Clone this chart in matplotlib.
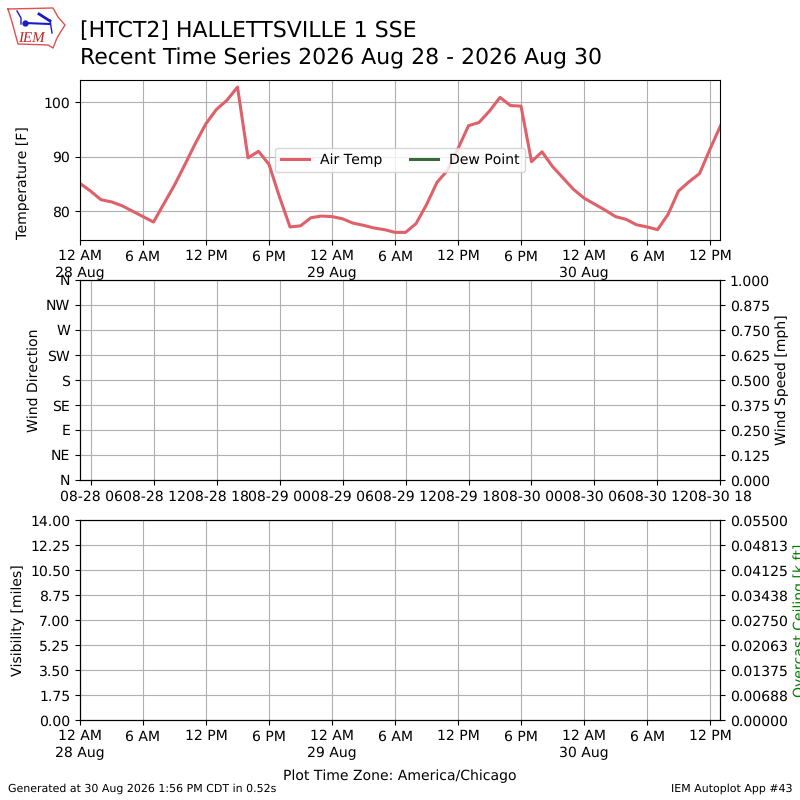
import matplotlib
matplotlib.use('Agg')
import matplotlib.pyplot as plt
import matplotlib.dates as mdates
import pandas as pd

plt.rcParams['text.hinting'] = 'no_hinting'
plt.rcParams['text.hinting_factor'] = 1

# hourly air temp [F], starting 28 Aug 12 AM
tmpf = [85.1, 83.7, 82.1, 81.7, 81.0, 80.0, 79.0, 78.0, 81.4, 84.8,
        88.6, 92.5, 96.1, 98.7, 100.4, 102.8, 89.8, 91.0, 88.6, 82.6,
        77.1, 77.3, 78.8, 79.1, 79.0, 78.6, 77.8, 77.4, 76.9, 76.6,
        76.1, 76.1, 77.7, 81.2, 85.3, 87.5, 91.5, 95.7, 96.3, 98.4,
        100.9, 99.4, 99.3, 89.1, 90.9, 88.2, 86.1, 84.0, 82.4, 81.3,
        80.2, 79.0, 78.5, 77.5, 77.1, 76.6, 79.4, 83.7, 85.4, 86.9,
        91.4, 95.7]
dwpf = []
temp_ticks = [80, 90, 100]
drct_labels = ['N', 'NE', 'E', 'SE', 'S', 'SW', 'W', 'NW', 'N']
drct_ticks = [0, 45, 90, 135, 180, 225, 270, 315, 360]
smph_ticks = [0, 0.125, 0.25, 0.375, 0.5, 0.625, 0.75, 0.875, 1.0]
vsby_ticks = [0, 1.75, 3.5, 5.25, 7, 8.75, 10.5, 12.25, 14]
ceil_ticks = [0, 0.006875, 0.01375, 0.020625, 0.0275, 0.034375, 0.04125, 0.048125, 0.055]

times = pd.date_range('2026-08-28 00:00', periods=len(tmpf), freq='h')
t0 = times[0]
t1 = t0 + pd.Timedelta(minutes=3657)
local_ticks = pd.date_range(t0, t1, freq='6h')
local_labels = []
for t in local_ticks:
    s = t.strftime('%I %p').lstrip('0')
    if t.hour == 0:
        s += '\n' + t.strftime('%d %b')
    local_labels.append(s)

fig = plt.figure(figsize=(8, 8), dpi=100)


def box(top, bottom):
    return [0.1, 1 - bottom / 800, 0.8, (bottom - top) / 800]


# temperature
ax1 = fig.add_axes(box(80, 240))
ax1.plot(times, tmpf, color='#e0606a', lw=2.2, label='Air Temp')
ax1.plot(times[:len(dwpf)], dwpf, color='#356b35', lw=2.2, label='Dew Point')
ax1.set_xlim(t0, t1)
ax1.set_ylim(74.7, 104.1)
ax1.set_yticks(temp_ticks)
ax1.set_xticks(local_ticks, local_labels, linespacing=1.3)
ax1.set_ylabel('Temperature [F]', loc='bottom')
ax1.yaxis.set_label_coords(-0.078, 0)
ax1.grid(True)
ax1.legend(loc='center', ncol=2)

# wind, axis runs in UTC
ax2 = fig.add_axes(box(280, 480))
ax2.set_xlim(pd.Timestamp('2026-08-28 04:55'), pd.Timestamp('2026-08-30 18:00'))
ax2.xaxis.set_major_locator(mdates.HourLocator(byhour=[0, 6, 12, 18]))
ax2.xaxis.set_major_formatter(mdates.DateFormatter('%m-%d %H'))
ax2.set_ylim(0, 360)
ax2.set_yticks(drct_ticks, drct_labels)
ax2.set_ylabel('Wind Direction')
ax2.grid(True)
ax2b = ax2.twinx()
ax2b.set_ylim(0, 1)
ax2b.set_yticks(smph_ticks, ['%.3f' % v for v in smph_ticks])
ax2b.set_ylabel('Wind Speed [mph]')

# visibility + ceiling
ax3 = fig.add_axes(box(520, 720))
ax3.set_xlim(t0, t1)
ax3.set_xticks(local_ticks, local_labels, linespacing=1.3)
ax3.set_ylim(0, 14)
ax3.set_yticks(vsby_ticks, ['%.2f' % v for v in vsby_ticks])
ax3.set_ylabel('Visibility [miles]')
ax3.set_xlabel('Plot Time Zone: America/Chicago', labelpad=7)
ax3.grid(True)
ax3b = ax3.twinx()
ax3b.set_ylim(0, 0.055)
ax3b.set_yticks(ceil_ticks, ['%.5f' % v for v in ceil_ticks])
ax3b.set_ylabel('Overcast Ceiling [k ft]', color='green')

fig.text(0.1, 1 - 31 / 800, '[HTCT2] HALLETTSVILLE 1 SSE', fontsize=16, va='center')
fig.text(0.1, 1 - 58 / 800, 'Recent Time Series 2026 Aug 28 - 2026 Aug 30', fontsize=16, va='center')
fig.text(8 / 800, 1 - 789 / 800, 'Generated at 30 Aug 2026 1:56 PM CDT in 0.52s', fontsize=8, va='center')
fig.text(793 / 800, 1 - 789 / 800, 'IEM Autoplot App #43', fontsize=8, ha='right', va='center')

# logo, pixel coords of the corner of the figure
logo = fig.add_axes([0, 1 - 60 / 800, 100 / 800, 60 / 800])
logo.set_xlim(0, 100)
logo.set_ylim(60, 0)
logo.axis('off')
logo.plot([8, 53, 58, 65, 60, 57, 53, 48, 18, 15, 12, 8],
          [9, 8, 17, 25, 33, 38, 48, 45, 44, 33, 22, 9],
          color='#e05050', lw=1)
logo.plot([25, 50], [23, 24], color='#1a1ac8', lw=1.5)
logo.plot([39, 50], [14, 21], color='#1a1ac8', lw=2)
logo.plot([50, 52], [20, 33], color='#1a1ac8', lw=1)
logo.plot([17, 21, 21], [11, 18, 24], color='#1a1ac8', lw=1)
logo.plot([25], [23], 'o', color='#1a1ac8', ms=3.5)
logo.text(31, 38, 'IEM', color='#c02020', fontsize=11, family='Liberation Serif',
          style='italic', ha='center', va='center')

fig.savefig('out.png', dpi=100)
